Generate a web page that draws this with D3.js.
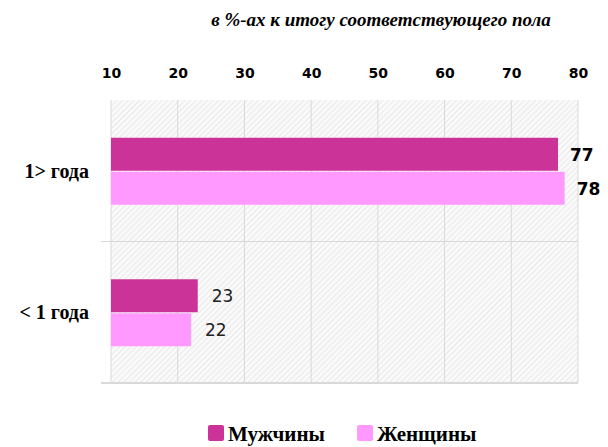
<!DOCTYPE html>
<html>
<head>
<meta charset="utf-8">
<script src="https://d3js.org/d3.v7.min.js"></script>
<style>
body { margin: 0; background: #fff; }
</style>
</head>
<body>
<div id="chart"></div>
<script>
var categories = ["1> года", "< 1 года"];
var seriesNames = ["Мужчины", "Женщины"];
var men = [77, 23];
var women = [78, 22];
var ticks = [10, 20, 30, 40, 50, 60, 70, 80];
var colors = ["#cc3399", "#ff99ff"];

var width = 608, height = 447;
var svg = d3.select("#chart").append("svg")
    .attr("width", width)
    .attr("height", height);

var margin = { top: 100, left: 111, right: 30, bottom: 64 };
var plotW = width - margin.left - margin.right;
var plotH = height - margin.top - margin.bottom;

// hatch background
var defs = svg.append("defs");
var pat = defs.append("pattern")
    .attr("id", "hatch")
    .attr("patternUnits", "userSpaceOnUse")
    .attr("width", 4).attr("height", 4)
    .attr("patternTransform", "rotate(45)");
pat.append("rect").attr("width", 4).attr("height", 4).attr("fill", "#fafafa");
pat.append("line").attr("x1", 0).attr("y1", 0).attr("x2", 0).attr("y2", 4)
    .attr("stroke", "#dcdcdc").attr("stroke-width", 1.2);

var g = svg.append("g").attr("transform", "translate(" + margin.left + "," + margin.top + ")");

var x = d3.scaleLinear().domain([10, 80]).range([0, plotW]);
var y = d3.scaleBand().domain(categories).range([0, plotH]);
var inner = d3.scaleBand().domain(seriesNames).range([0, 68]);

g.append("rect").attr("width", plotW).attr("height", plotH).attr("fill", "url(#hatch)");

// vertical grid
g.selectAll(".vgrid").data(ticks).enter().append("line")
    .attr("x1", function (d) { return x(d); })
    .attr("x2", function (d) { return x(d); })
    .attr("y1", 0).attr("y2", plotH)
    .attr("stroke", "#d9d9d9").attr("stroke-width", 1);

// category separator
g.selectAll(".hgrid").data(categories.slice(1)).enter().append("line")
    .attr("x1", -10).attr("x2", plotW)
    .attr("y1", function (d) { return y(d); })
    .attr("y2", function (d) { return y(d); })
    .attr("stroke", "#d9d9d9");

// bottom axis line
g.append("line").attr("x1", -10).attr("x2", plotW).attr("y1", plotH).attr("y2", plotH)
    .attr("stroke", "#d9d9d9").attr("stroke-width", 2);

// top axis
var axis = d3.axisTop(x).tickValues(ticks).tickSize(0).tickPadding(0);
var ax = g.append("g").attr("transform", "translate(0,-22)").call(axis);
ax.select(".domain").remove();
ax.selectAll("text")
    .style("font-family", "'DejaVu Sans', sans-serif")
    .style("font-size", "14px")
    .style("font-weight", "bold")
    .attr("fill", "#000");

var rows = categories.map(function (c, i) {
    return { cat: c, values: [men[i], women[i]] };
});

var row = g.selectAll(".row").data(rows).enter().append("g")
    .attr("transform", function (d) { return "translate(0," + (y(d.cat) + (y.bandwidth() - 68) / 2 + 1) + ")"; });

row.selectAll("rect").data(function (d) {
    return d.values.map(function (v, j) { return { v: v, s: seriesNames[j], j: j, top: d.cat === categories[0] }; });
}).enter().append("rect")
    .attr("x", 0)
    .attr("y", function (d) { return inner(d.s); })
    .attr("width", function (d) { return x(d.v); })
    .attr("height", inner.bandwidth() - 1)
    .attr("fill", function (d) { return colors[d.j]; });

row.selectAll(".val").data(function (d) {
    return d.values.map(function (v, j) { return { v: v, s: seriesNames[j], j: j, top: d.cat === categories[0] }; });
}).enter().append("text")
    .attr("x", function (d) { return x(d.v) + (d.top ? 12 : 14); })
    .attr("y", function (d) { return inner(d.s) + inner.bandwidth() / 2 + 6; })
    .text(function (d) { return d.v; })
    .style("font-family", "'DejaVu Sans', sans-serif")
    .style("font-size", "17px")
    .style("font-weight", function (d) { return d.top ? "bold" : "normal"; })
    .attr("fill", function (d) { return d.top ? "#000" : "#222"; });

// category labels
g.selectAll(".cat").data(categories).enter().append("text")
    .attr("x", -22)
    .attr("y", function (d) { return y(d) + y.bandwidth() / 2 + 7; })
    .attr("text-anchor", "end")
    .text(function (d) { return d; })
    .style("font-family", "'Liberation Serif', serif")
    .style("font-size", "20px")
    .style("font-weight", "bold");

// title
svg.append("text")
    .attr("x", 381).attr("y", 26)
    .attr("text-anchor", "middle")
    .text("в %-ах к итогу соответствующего пола")
    .style("font-family", "'Liberation Serif', serif")
    .style("font-size", "19px")
    .style("font-style", "italic")
    .style("font-weight", "bold");

// legend
var legendX = [208, 357];
var leg = svg.selectAll(".leg").data(seriesNames).enter().append("g")
    .attr("transform", function (d, i) { return "translate(" + legendX[i] + ",425)"; });
leg.append("rect").attr("width", 16).attr("height", 16).attr("rx", 2)
    .attr("fill", function (d, i) { return colors[i]; });
leg.append("text").attr("x", 20).attr("y", 16)
    .text(function (d) { return d; })
    .style("font-family", "'Liberation Serif', serif")
    .style("font-size", "21px")
    .style("font-weight", "bold");
</script>
</body>
</html>
